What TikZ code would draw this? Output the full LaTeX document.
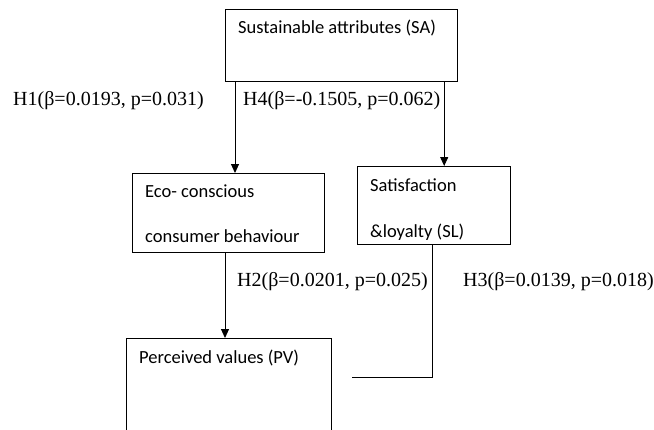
\documentclass[tikz,border=0pt]{standalone}
\usepackage{fontspec}
\setmainfont{Liberation Serif}
\newfontfamily\cajafont{Carlito}
\usetikzlibrary{arrows.meta,positioning}

\tikzset{
  caja/.style={draw, line width=1.2pt, rectangle, anchor=north west, inner sep=0pt},
  txtcaja/.style={anchor=base west, inner sep=0pt, font=\cajafont\fontsize{18.5}{22}\selectfont},
  hipotesis/.style={anchor=base west, inner sep=0pt, font=\fontsize{20}{24}\selectfont},
  flecha/.style={line width=1pt, -{Triangle[length=9pt,width=8pt]}},
  linea/.style={line width=1pt}
}

\begin{document}
\begin{tikzpicture}[x=1pt, y=-1pt]
    \clip (0,0) rectangle (654,429);

    % Cajas
    \node[caja, minimum width=232pt, minimum height=72pt] (sa) at (225,9) {};
    \node[caja, minimum width=192pt, minimum height=79pt] (eco) at (132,173) {};
    \node[caja, minimum width=153pt, minimum height=78pt] (sl) at (357,166) {};
    \node[caja, minimum width=205pt, minimum height=110pt] (pv) at (126,338) {};

    % Textos de las cajas
    \node[txtcaja] (satxt) at (238,33) {Sustainable attributes (SA)};
    \node[txtcaja] (ecotxta) at (145,197) {Eco- conscious};
    \node[txtcaja] (ecotxtb) at (145,242) {consumer behaviour};
    \node[txtcaja] (sltxta) at (370,191) {Satisfaction};
    \node[txtcaja] (sltxtb) at (370,237) {\&loyalty (SL)};
    \node[txtcaja] (pvtxt) at (139,363) {Perceived values (PV)};

    % Flechas
    \draw[flecha] ([xshift=10pt]sa.south west) -- ([xshift=10pt]sa.south west |- eco.north);
    \draw[flecha] ([xshift=-14pt]sa.south east) -- ([xshift=-14pt]sa.south east |- sl.north);
    \draw[flecha] ([xshift=93pt]eco.south west) -- ([xshift=93pt]eco.south west |- pv.north);
    \coordinate (slfin) at (352,377);
    \draw[linea] ([xshift=75pt]sl.south west) |- (slfin);

    % Hipotesis
    \node[hipotesis] (h1) at (13,105) {H1(β=0.0193, p=0.031)};
    \node[hipotesis] (h4) at (243,105) {H4(β=-0.1505, p=0.062)};
    \node[hipotesis] (h2) at (237,286) {H2(β=0.0201, p=0.025)};
    \node[hipotesis] (h3) at (463,286) {H3(β=0.0139, p=0.018)};
  \end{tikzpicture}
\end{document}
